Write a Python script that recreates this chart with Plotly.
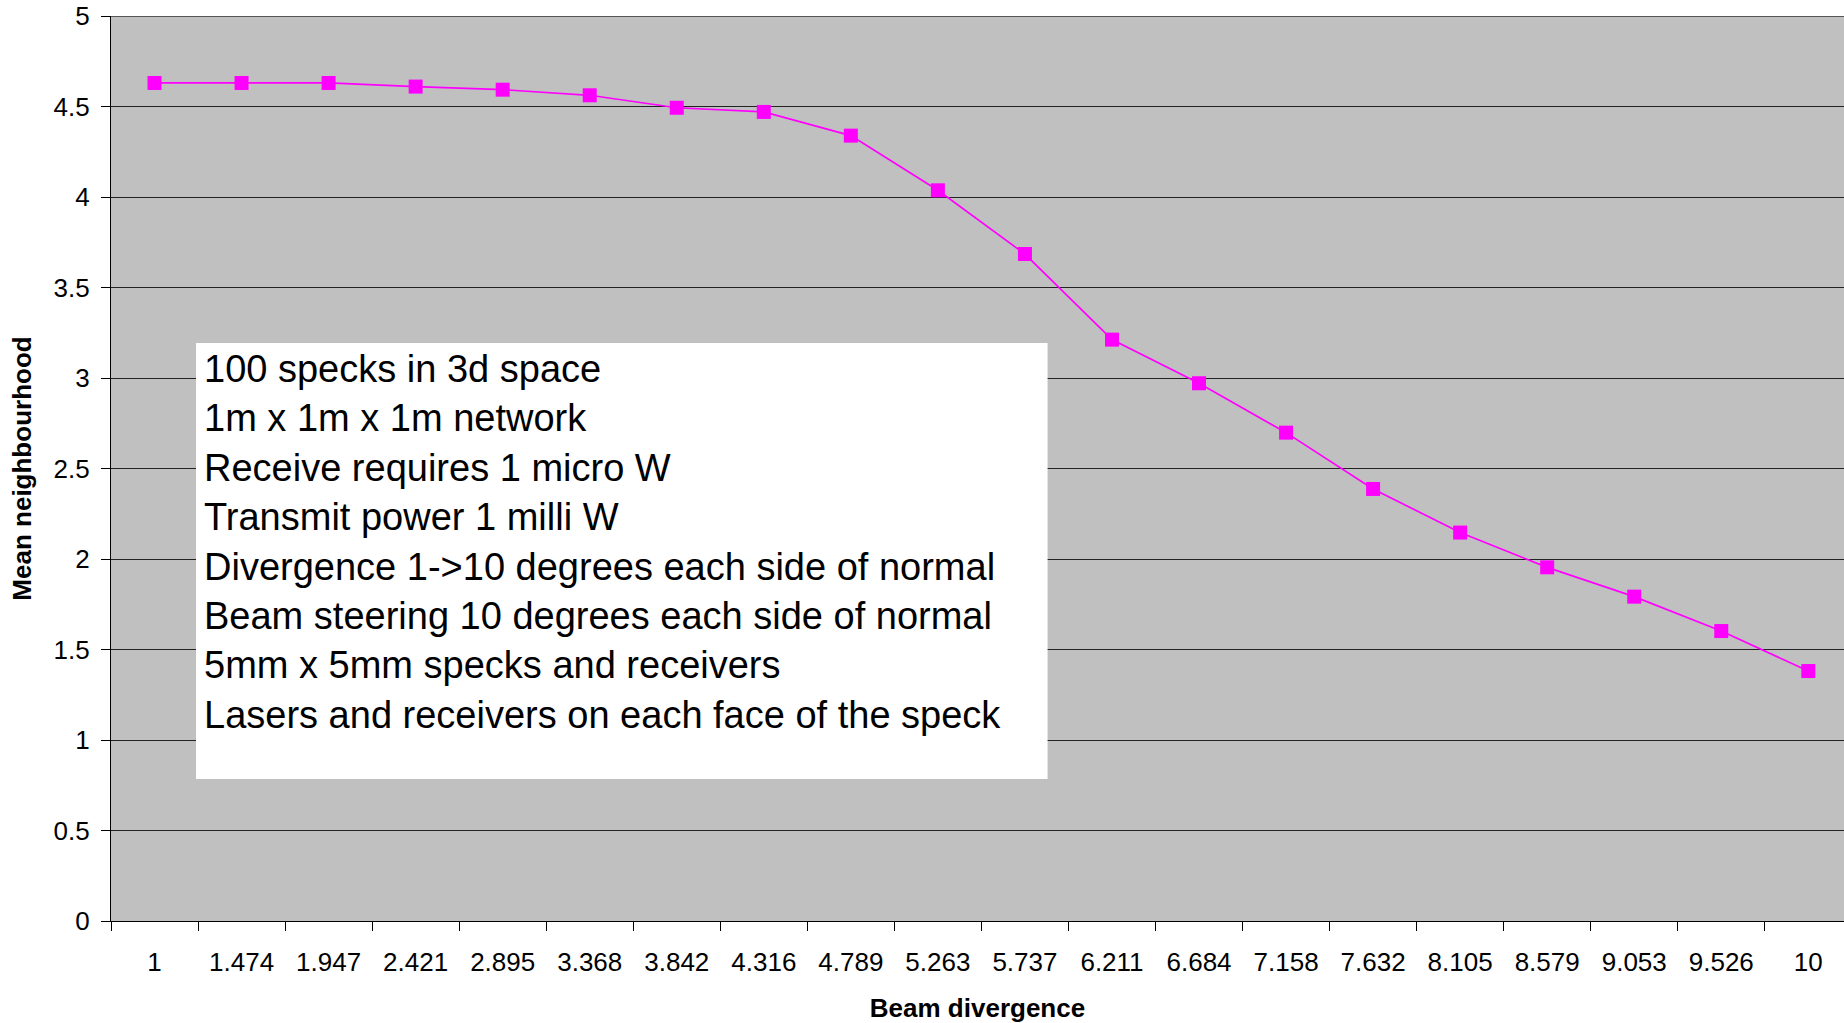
import plotly.graph_objects as go

categories = ["1", "1.474", "1.947", "2.421", "2.895", "3.368", "3.842", "4.316", "4.789", "5.263",
              "5.737", "6.211", "6.684", "7.158", "7.632", "8.105", "8.579", "9.053", "9.526", "10"]
mean_neighbourhood = [4.63, 4.63, 4.63, 4.61, 4.593, 4.562, 4.493, 4.47, 4.339, 4.037,
                      3.685, 3.212, 2.971, 2.698, 2.387, 2.146, 1.954, 1.792, 1.602, 1.381]
y_ticks = [0, 0.5, 1, 1.5, 2, 2.5, 3, 3.5, 4, 4.5, 5]
y_tick_labels = ["0", "0.5", "1", "1.5", "2", "2.5", "3", "3.5", "4", "4.5", "5"]
info_lines = [
    "100 specks in 3d space",
    "1m x 1m x 1m network",
    "Receive requires 1 micro W",
    "Transmit power 1 milli W",
    "Divergence 1->10 degrees each side of normal",
    "Beam steering 10 degrees each side of normal",
    "5mm x 5mm specks and receivers",
    "Lasers and receivers on each face of the speck",
]

FONT = "Arial, 'Liberation Sans', sans-serif"

fig = go.Figure()
fig.add_trace(go.Scatter(
    x=categories, y=mean_neighbourhood, mode="lines+markers",
    line=dict(color="#FF00FF", width=1.7),
    marker=dict(symbol="square", size=14, color="#FF00FF"),
    showlegend=False,
))

# top gridline (at the top edge of the plot area)
fig.add_shape(type="line", xref="paper", yref="y", x0=0, x1=1, y0=5, y1=5,
              line=dict(color="#555555", width=2), layer="above")

# info box
fig.add_shape(type="rect", xref="x", yref="y",
              x0=0.477, x1=10.26, y0=0.785, y1=3.193,
              fillcolor="white", line=dict(width=0), layer="above")
fig.add_annotation(xref="x", yref="y", x=0.54, y=3.175,
                   xanchor="left", yanchor="top", align="left",
                   text="<br>".join(info_lines), showarrow=False,
                   font=dict(family=FONT, size=38, color="black"))

fig.update_layout(
    width=1844, height=1023,
    margin=dict(l=111, r=0, t=16, b=102),
    paper_bgcolor="white", plot_bgcolor="#C0C0C0",
    font=dict(family=FONT, color="black"),
)
fig.update_xaxes(
    type="category", range=[-0.5, 19.41],
    showline=True, linecolor="black", linewidth=1.3,
    ticks="outside", ticklen=9, tickcolor="black", tickwidth=1, tickson="boundaries",
    showgrid=False, tickfont=dict(size=26, family=FONT), ticklabelstandoff=18,
    title=dict(text="<b>Beam divergence</b>", font=dict(size=26, family=FONT), standoff=22),
)
fig.update_yaxes(
    range=[0, 5], tickvals=y_ticks, ticktext=y_tick_labels,
    showline=True, linecolor="black", linewidth=1.3,
    ticks="outside", ticklen=9, tickcolor="black", tickwidth=1,
    showgrid=True, gridcolor="#222222", gridwidth=1.3, zeroline=False,
    tickfont=dict(size=26, family=FONT), ticklabelstandoff=6,
    title=dict(text="<b>Mean neighbourhood</b>", font=dict(size=26, family=FONT), standoff=14),
)

fig.write_html("out.html", config={"displayModeBar": False},
               post_script="document.body.style.margin='0';document.body.style.overflow='hidden';")
